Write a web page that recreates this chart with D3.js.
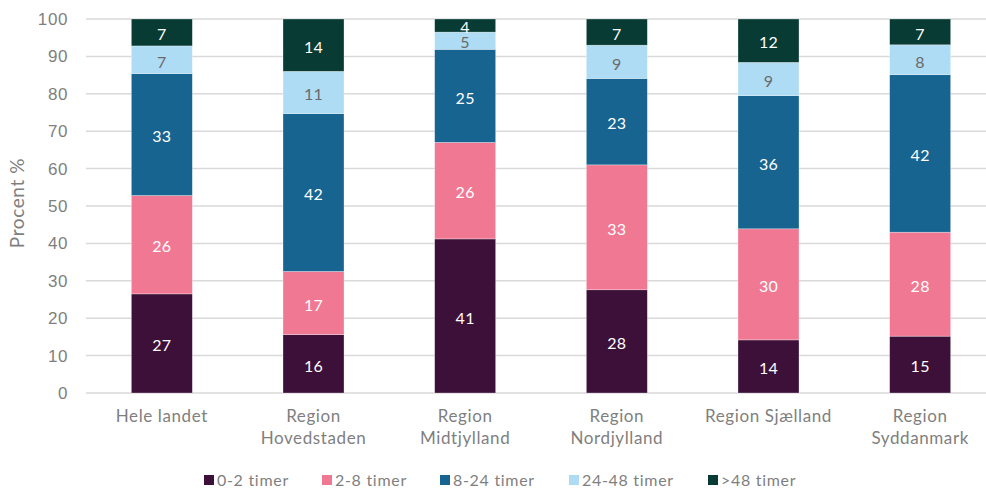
<!DOCTYPE html>
<html>
<head>
<meta charset="utf-8">
<script src="https://cdn.jsdelivr.net/npm/d3@7"></script>
<style>
  body { margin: 0; background: #fff; }
  svg { display: block; font-family: Lato, "Open Sans", sans-serif; }
  .lbl { font-size: 17px; letter-spacing: 0.6px; fill: #7f7f7f; }
  .leg { font-size: 16px; letter-spacing: 0.7px; fill: #7f7f7f; }
</style>
</head>
<body>
<svg id="chart" width="986" height="489"></svg>
<script>
// categories (label lines)
const categories = [
  ["Hele landet"],
  ["Region", "Hovedstaden"],
  ["Region", "Midtjylland"],
  ["Region", "Nordjylland"],
  ["Region Sjælland"],
  ["Region", "Syddanmark"]
];
const seriesNames = ["0-2 timer", "2-8 timer", "8-24 timer", "24-48 timer", ">48 timer"];
const seriesColors = ["#3d1039", "#f07893", "#176491", "#aedcf5", "#073b33"];

// values per series (percent), one per category
const v0_2   = [26.5, 15.6, 41.2, 27.6, 14.2, 15.2];
const v2_8   = [26.3, 16.9, 25.8, 33.4, 29.7, 27.8];
const v8_24  = [32.6, 42.2, 24.9, 23.1, 35.6, 42.1];
const v24_48 = [7.4, 11.3, 4.6, 8.9, 8.9, 8.0];
const v48    = [7.2, 14.0, 3.5, 7.0, 11.6, 6.9];
const yTicks = [0, 10, 20, 30, 40, 50, 60, 70, 80, 90, 100];

const seriesValues = [v0_2, v2_8, v8_24, v24_48, v48];
const rows = categories.map((c, i) => {
  const r = { key: i };
  seriesNames.forEach((s, j) => r[s] = seriesValues[j][i]);
  return r;
});

const svg = d3.select("#chart");
const W = 986, left = 86;

const x = d3.scaleBand().domain(d3.range(categories.length))
  .range([left, 996]).padding(0);
const y = d3.scaleLinear().domain([0, 100]).range([393, 19]);
const barW = 61;
const cx = i => x(i) + x.bandwidth() / 2;

// gridlines
svg.append("g").selectAll("line").data(yTicks).join("line")
  .attr("x1", left).attr("x2", W)
  .attr("y1", d => y(d)).attr("y2", d => y(d))
  .attr("stroke", "#d9d9d9").attr("stroke-width", 1.5);

// y axis labels
const yAxis = d3.axisLeft(y).tickValues(yTicks).tickSize(0).tickPadding(0);
svg.append("g").attr("transform", "translate(68,0)").call(yAxis)
  .call(g => g.select(".domain").remove())
  .selectAll("text").attr("class", "lbl").attr("font-family", null).attr("font-size", null)
  .attr("fill", null);

svg.append("text").attr("class", "lbl")
  .attr("transform", "translate(24,203) rotate(-90)")
  .attr("text-anchor", "middle").style("font-size", "19px")
  .text("Procent %");

// stacked bars
const stack = d3.stack().keys(seriesNames)(rows);
const layers = svg.append("g").selectAll("g").data(stack).join("g")
  .attr("fill", (d, i) => seriesColors[i]);

layers.selectAll("rect").data(d => d).join("rect")
  .attr("x", d => cx(d.data.key) - barW / 2)
  .attr("width", barW)
  .attr("y", d => y(Math.min(d[1], 100)))
  .attr("height", d => y(d[0]) - y(Math.min(d[1], 100)))
  .attr("stroke", "rgba(255,255,255,0.5)").attr("stroke-width", 0.6);

// value labels
stack.forEach((layer, i) => {
  svg.append("g").selectAll("text").data(layer).join("text")
    .attr("x", d => cx(d.data.key))
    .attr("y", d => (y(d[0]) + y(Math.min(d[1], 100))) / 2 + 2)
    .attr("dy", "0.36em")
    .attr("text-anchor", "middle").attr("font-size", 16).attr("letter-spacing", 0.3)
    .attr("fill", i === 3 ? "#6b6b6b" : "#ffffff")
    .text(d => Math.round(d[1] - d[0]));
});

// category labels
const cat = svg.append("g").selectAll("text").data(categories).join("text")
  .attr("class", "lbl")
  .attr("x", (d, i) => cx(i))
  .attr("y", 422)
  .attr("text-anchor", "middle");
cat.selectAll("tspan").data(d => d).join("tspan")
  .attr("x", function () { return this.parentNode.getAttribute("x"); })
  .attr("dy", (d, i) => i === 0 ? 0 : 22)
  .text(d => d);

// legend
const legendX = [204, 322, 440, 569, 708];
const lg = svg.append("g").selectAll("g").data(seriesNames).join("g")
  .attr("transform", (d, i) => `translate(${legendX[i]},475)`);
lg.append("rect").attr("width", 10).attr("height", 10).attr("fill", (d, i) => seriesColors[i]);
lg.append("text").attr("class", "leg").attr("x", 13).attr("y", 5).attr("dy", "0.36em")
  .text(d => d);
</script>
</body>
</html>
